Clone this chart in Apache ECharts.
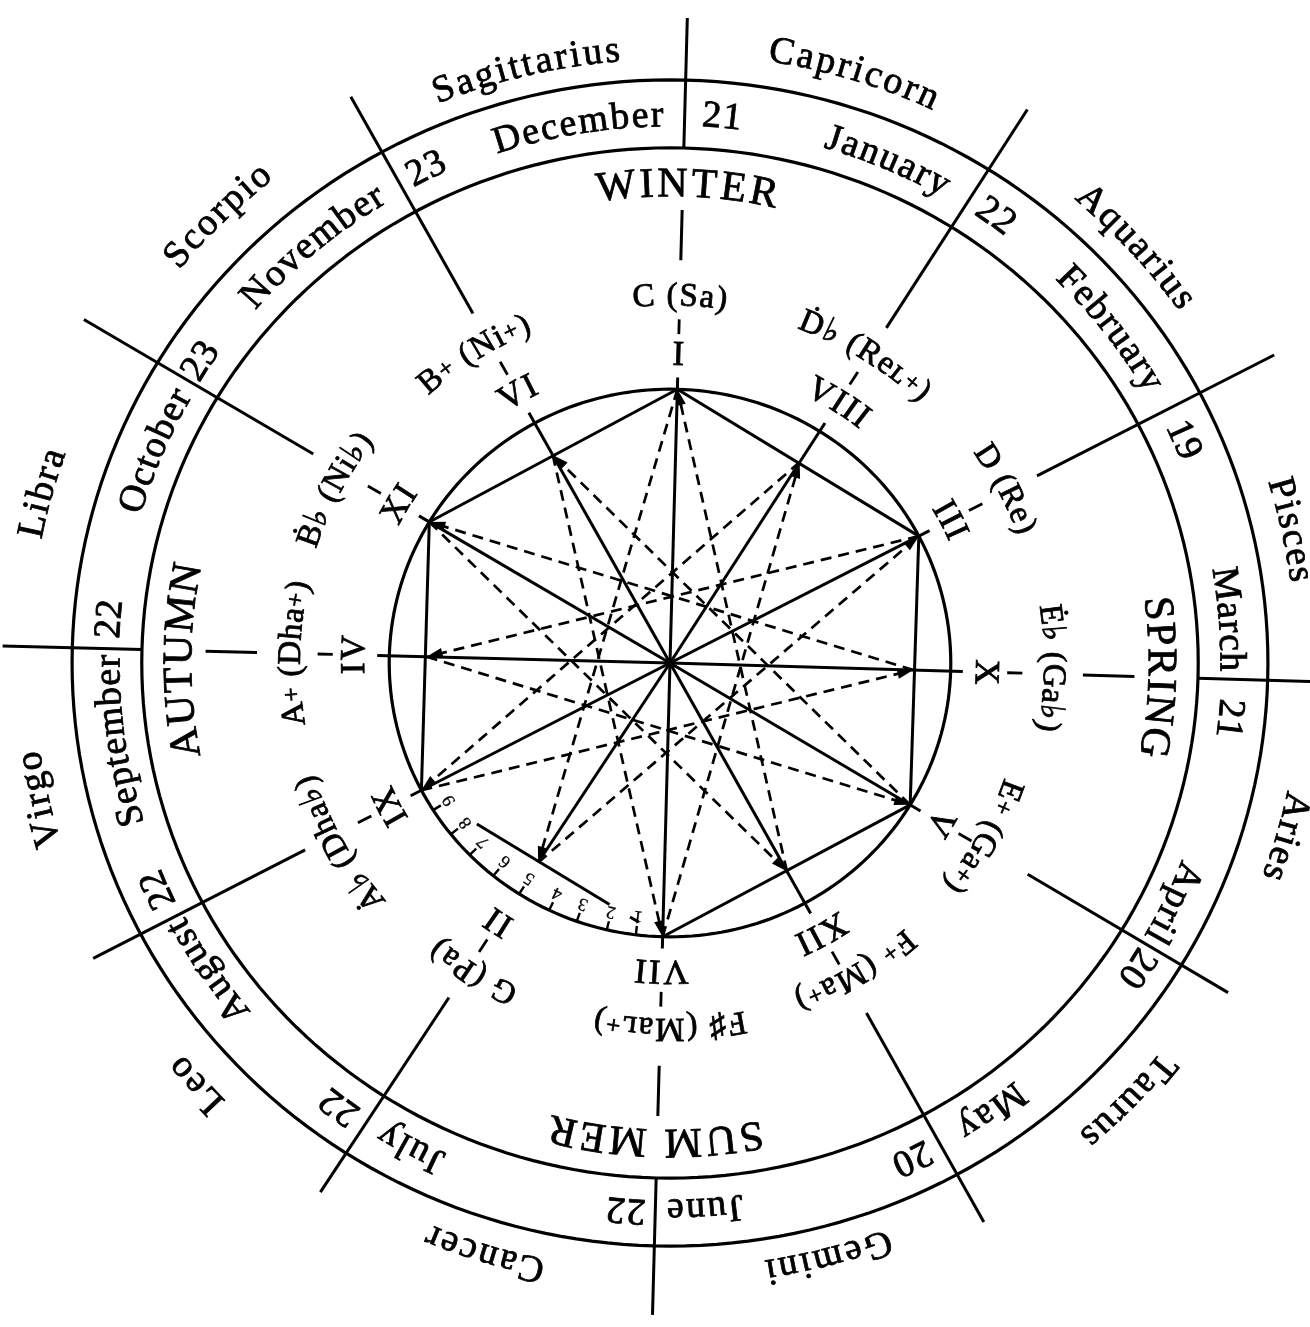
<!DOCTYPE html>
<html>
<head>
<meta charset="utf-8">
<script src="https://cdn.jsdelivr.net/npm/echarts@6.0.0/dist/echarts.min.js"></script>
<style>
  html, body { margin: 0; padding: 0; background: #fff; }
  #chart { width: 1310px; height: 1327px; }
</style>
</head>
<body>
<div id="chart"></div>
<script>
// angles in degrees, counter-clockwise from 3 o'clock (it sits a little rotated)
// radii in chart units from the centre of the wheel

// zodiac signs, outside the wheel
const zodiacNames = ['Sagittarius', 'Capricorn', 'Aquarius', 'Pisces', 'Aries', 'Taurus', 'Gemini', 'Cancer', 'Leo', 'Virgo', 'Libra', 'Scorpio'];
const zodiacAngles = [103.3, 73.1, 42.5, 12.4, -16.1, -44.4, -75.4, -107, -137.6, -167.5, 164.5, 134.6];
const zodiacRadii = [623, 629, 628, 630, 635, 636, 624, 628, 635, 640, 645, 639];

// month band
const monthNames = ['December', 'January', 'February', 'March', 'April', 'May', 'June', 'July', 'August', 'September', 'October', 'November'];
const monthAngles = [99.5, 67.1, 37.9, 4.6, -26, -55, -86.4, -117.5, -145.7, -171.8, 157.1, 129.9];
const dayLabels = ['21', '22', '19', '21', '20', '20', '22', '22', '22', '22', '23', '23'];
const dayAngles = [84.7, 54.6, 24, -5.8, -33.8, -64.5, -94.5, -126, -155.6, 175.4, 146.6, 115.7];

// seasons
const seasonNames = ['WINTER', 'SPRING', 'SUM MER', 'AUTUMN'];
const seasonAngles = [88, -1.7, -91.7, 179.7];
const seasonDirs = [0, 3, 6, 9];

// the twelve directions, clockwise from the top
const dirAngles = [88.5, 57.8, 27.6, -1.7, -31.2, -61.3, -91.5, -122.8, -152.3, 178.5, 149, 118.8];
const numerals = ['I', 'VIII', 'III', 'X', 'V', 'XII', 'VII', 'II', 'IX', 'IV', 'XI', 'VI'];
const noteNames = ['C (Sa)', 'Ḋ♭ (Reʟ+)', 'D (Re)', 'Ė♭ (Ga♭)', 'E+ (Ga+)', 'F+ (Ma+)', 'F♯ (Maʟ+)', 'G (Pa)', 'Ȧ♭ (Dha♭)', 'A+ (Dha+)', 'Ḃ♭ (Ni♭)', 'B+ (Ni+)'];
const noteAngles = [88.5, 58.3, 28, -0.8, -29.5, -59.6, -90, -121.8, -150.8, 178.5, 152.1, 121.7];
const noteRadii = [372, 371, 377, 379, 360, 365, 370, 370, 379, 375, 378, 371];
const dividerInner = [523, 402, 410, 523, 414, 405, 523, 404, 408, 523, 412, 405];
const dividerOuter = [655, 664, 675, 720, 646, 647, 662, 639, 645, 661, 677, 656];

// star inside the small circle: hexagon corners and the middles of its sides
const pointRadii = [278, 241, 278, 241, 278, 241, 278, 241, 278, 241, 278, 241];
const spokeEnds = [290, 288, 290, 290, 290, 290, 290, 241, 290, 290, 290, 290];
const ringRadii = [592, 523, 278];

// divided arc between VII and IX
const arcTickAngles = [-97, -103, -109.4, -115.5, -122.5, -129, -135.5, -141.3, -147.5];
const arcNumbers = ['1', '2', '3', '4', '5', '6', '7', '8', '9'];

const INK = '#000';
const FONT = '"Liberation Serif", "DejaVu Serif", serif';
const SMALL = '+';

// where the wheel sits on the page and the slight stretch of the scan
const PX_CX = 670, PX_CY = 663, SX = 1.01, SY = 0.985;

function polar(r, deg) {
  const a = deg * Math.PI / 180;
  return [r * Math.cos(a), r * Math.sin(a)];
}

const measureCtx = document.createElement('canvas').getContext('2d');
function fontStr(size) { return size + 'px ' + FONT; }

// text laid along a circle, one glyph at a time, reading clockwise
function arcText(api, text, deg, r, size, spacing) {
  const c0 = api.coord([0, 0]);
  const p = api.coord(polar(r, deg));
  const R = Math.hypot(p[0] - c0[0], p[1] - c0[1]);
  const chars = Array.from(text);
  const sizes = chars.map(ch => SMALL.includes(ch) ? size * 0.75 : size);
  const widths = chars.map((ch, i) => {
    measureCtx.font = fontStr(sizes[i]);
    return measureCtx.measureText(ch).width;
  });
  const total = widths.reduce((a, b) => a + b, 0) + spacing * (chars.length - 1);
  let s = -total / 2;
  const out = [];
  chars.forEach((ch, i) => {
    const mid = s + widths[i] / 2;
    s += widths[i] + spacing;
    if (ch === ' ') return;
    const a = deg - (mid / R) * 180 / Math.PI;
    const q = api.coord(polar(r, a));
    const sa = Math.atan2(-(q[1] - c0[1]), q[0] - c0[0]);
    out.push({
      type: 'text', x: q[0], y: q[1], rotation: sa - Math.PI / 2,
      style: {
        text: ch, font: fontStr(sizes[i]), fill: INK,
        stroke: INK, lineWidth: size > 20 ? 0.8 : 0.3,
        align: 'center', verticalAlign: 'middle',
        textAlign: 'center', textVerticalAlign: 'middle'
      }
    });
  });
  return out;
}

function radialSeg(api, r1, r2, deg, width, dash) {
  const a = api.coord(polar(r1, deg)), b = api.coord(polar(r2, deg));
  return {
    type: 'line', shape: { x1: a[0], y1: a[1], x2: b[0], y2: b[1] },
    style: { stroke: INK, lineWidth: width, lineDash: dash || null }
  };
}

function chordSeg(api, p, q, t1, t2, width, dash) {
  const a = api.coord([p[0] + (q[0] - p[0]) * t1, p[1] + (q[1] - p[1]) * t1]);
  const b = api.coord([p[0] + (q[0] - p[0]) * t2, p[1] + (q[1] - p[1]) * t2]);
  return {
    type: 'line', shape: { x1: a[0], y1: a[1], x2: b[0], y2: b[1] },
    style: { stroke: INK, lineWidth: width, lineDash: dash || null }
  };
}

function arrowHead(api, from, to) {
  const a = api.coord(from), b = api.coord(to);
  const dx = b[0] - a[0], dy = b[1] - a[1];
  const len = Math.hypot(dx, dy);
  const ux = dx / len, uy = dy / len;
  const L = 16, W = 5;
  const bx = b[0] - ux * L, by = b[1] - uy * L;
  return {
    type: 'polygon',
    shape: { points: [[b[0], b[1]], [bx - uy * W, by + ux * W], [bx + uy * W, by - ux * W]] },
    style: { fill: INK }
  };
}

function point(k) { return polar(pointRadii[k], dirAngles[k]); }

function custom(data, renderItem) {
  return { type: 'custom', coordinateSystem: 'cartesian2d', silent: true, data: data, renderItem: renderItem };
}

function textSeries(labels, angles, radii, size, spacing) {
  return custom(angles.map((a, i) => [a, Array.isArray(radii) ? radii[i] : radii]), (params, api) => ({
    type: 'group',
    children: arcText(api, labels[params.dataIndex], api.value(0), api.value(1), size, spacing)
  }));
}

const series = [];

// circles
series.push(custom(ringRadii.map(r => [0, r]), (params, api) => {
  const r = api.value(1);
  const pts = [];
  for (let d = 0; d < 360; d += 1.5) pts.push(api.coord(polar(r, d)));
  return { type: 'polygon', shape: { points: pts }, style: { fill: 'none', stroke: INK, lineWidth: 3.2 } };
}));

// long dividers between the signs
series.push(custom(dirAngles.map((a, i) => [a, dividerInner[i]]), (params, api) => {
  const i = params.dataIndex;
  return radialSeg(api, dividerInner[i], dividerOuter[i], dirAngles[i], 3);
}));

// short strokes under the season names
series.push(custom(seasonDirs.map(k => [dirAngles[k], 409]), (params, api) =>
  radialSeg(api, 409, 460, api.value(0), 3)));

// small dash between numeral and note
series.push(custom(dirAngles.map(a => [a, 334]), (params, api) =>
  radialSeg(api, 334, 349, api.value(0), 2.8)));

// spokes from the centre
series.push(custom(dirAngles.map((a, i) => [a, spokeEnds[i]]), (params, api) =>
  radialSeg(api, 0, api.value(1), api.value(0), 3)));

// hexagon sides (the one next to the numbered arc is broken by the figures)
series.push(custom([0, 2, 4, 6, 8, 10].map(k => [dirAngles[k], pointRadii[k]]), (params, api) => {
  const k = params.dataIndex * 2;
  const p = point(k), q = point((k + 2) % 12);
  if (k === 6) {
    return {
      type: 'group', children: [
        chordSeg(api, q, p, 0.23, 0.78, 3),
        chordSeg(api, q, p, 0.865, 0.9, 3)
      ]
    };
  }
  return chordSeg(api, p, q, 0, 1, 3);
}));

// dashed twelve-point star, arrow on the fifth it leads to
series.push(custom(dirAngles.map((a, i) => [a, pointRadii[i]]), (params, api) => {
  const k = params.dataIndex;
  const p = point(k), q = point((k + 7) % 12);
  return {
    type: 'group', children: [
      chordSeg(api, p, q, 0, 0.985, 2.7, [11, 7]),
      arrowHead(api, p, q)
    ]
  };
}));

// ticks on the divided arc
series.push(custom(arcTickAngles.map(a => [a, 278]), (params, api) =>
  radialSeg(api, 269, 278, api.value(0), 2.4)));

// text
series.push(textSeries(zodiacNames, zodiacAngles, zodiacRadii, 38, 2.5));
series.push(textSeries(monthNames, monthAngles, 555, 38, 1.8));
series.push(textSeries(dayLabels, dayAngles, 556, 38, 1));
series.push(textSeries(seasonNames, seasonAngles, 485, 42, 3));
series.push(textSeries(noteNames, noteAngles, noteRadii, 33, 1.5));
series.push(textSeries(numerals, dirAngles, 312, 35, 2));
series.push(textSeries(arcNumbers, arcTickAngles, 259, 18, 0));

const chart = echarts.init(document.getElementById('chart'), null, { renderer: 'canvas' });
chart.setOption({
  backgroundColor: '#ffffff',
  animation: false,
  grid: { left: 0, right: 0, top: 0, bottom: 0 },
  xAxis: { type: 'value', min: -PX_CX / SX, max: (1310 - PX_CX) / SX, show: false },
  yAxis: { type: 'value', min: -(1327 - PX_CY) / SY, max: PX_CY / SY, show: false },
  series: series
});
</script>
</body>
</html>
